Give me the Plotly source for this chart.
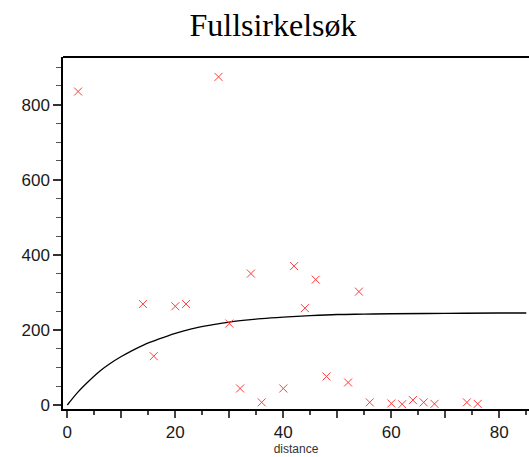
import plotly.graph_objects as go

# Observed (experimental) points
dist = [2, 14, 16, 20, 22, 28, 30, 32, 34, 36, 40, 42, 44, 46, 48, 52, 54, 56,
        60, 62, 64, 66, 68, 74, 76]
gamma = [835, 269, 130, 263, 269, 874, 217, 44, 350, 7, 44, 370, 258, 334, 76,
         60, 302, 7, 4, 2, 13, 7, 3, 7, 3]

# Fitted model curve
model_x = [0, 2, 4, 6, 8, 10, 12, 14, 17, 20, 23, 27, 30, 33, 36, 40, 45, 50,
           55, 60, 70, 80, 85]
model_y = [0, 35, 64, 90, 111, 129, 145, 159, 176, 191, 203, 214, 221, 226,
           230, 234, 238, 241, 242, 243, 244, 245, 245]

x_tickvals = [0, 10, 20, 30, 40, 50, 60, 70, 80]
x_ticktext = ["0", "", "20", "", "40", "", "60", "", "80"]
y_tickvals = [0, 200, 400, 600, 800]
y_ticktext = ["0", "200", "400", "600", "800"]

fig = go.Figure()
fig.add_trace(go.Scatter(
    x=model_x, y=model_y, mode="lines",
    line=dict(color="black", width=1.3, shape="spline"),
    showlegend=False, hoverinfo="skip"))
fig.add_trace(go.Scatter(
    x=dist, y=gamma, mode="markers",
    marker=dict(symbol="x-thin", size=8, line=dict(color="#ff3b3b", width=1)),
    showlegend=False))

tickfont = dict(family="Liberation Sans", size=17, color="#1a1a1a")

fig.update_layout(
    width=529, height=457,
    margin=dict(l=63, r=0, t=57, b=48),
    paper_bgcolor="white", plot_bgcolor="white",
    title=dict(text="Fullsirkelsøk", x=273 / 529, xanchor="center",
               y=1 - 25 / 457, yanchor="middle", xref="container", yref="container",
               font=dict(family="Liberation Serif", size=32, color="black")),
    xaxis=dict(range=[-0.8, 85.5], showgrid=False, zeroline=False,
               showline=True, linecolor="black", linewidth=2,
               ticks="outside", ticklen=7, tickwidth=1.5, tickcolor="#444",
               tickmode="array", tickvals=x_tickvals, ticktext=x_ticktext,
               tickfont=tickfont,
               minor=dict(dtick=5, ticks="outside", ticklen=4, tickwidth=1.5,
                          tickcolor="#444", showgrid=False),
               title=dict(text="distance", standoff=2,
                          font=dict(family="Liberation Sans", size=12, color="#333"))),
    yaxis=dict(range=[-10.7, 927], showgrid=False, zeroline=False,
               showline=True, linecolor="black", linewidth=1.5,
               ticks="outside", ticklen=8, tickwidth=1.5, tickcolor="#333",
               tickmode="array", tickvals=y_tickvals, ticktext=y_ticktext,
               tickfont=tickfont,
               minor=dict(dtick=50, ticks="outside", ticklen=5, tickwidth=1.2,
                          tickcolor="#555", showgrid=False)),
    shapes=[dict(type="line", xref="paper", yref="paper", x0=0, x1=1, y0=1, y1=1,
                 line=dict(color="black", width=2))],
)

fig.write_html("out.html")
